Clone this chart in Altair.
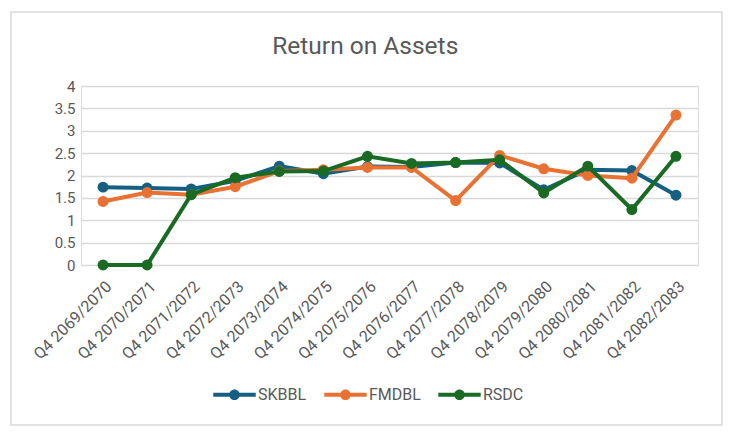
import altair as alt
import pandas as pd

quarters = ["Q4 2069/2070", "Q4 2070/2071", "Q4 2071/2072", "Q4 2072/2073",
            "Q4 2073/2074", "Q4 2074/2075", "Q4 2075/2076", "Q4 2076/2077",
            "Q4 2077/2078", "Q4 2078/2079", "Q4 2079/2080", "Q4 2080/2081",
            "Q4 2081/2082", "Q4 2082/2083"]
series_names = ["SKBBL", "FMDBL", "RSDC"]
skbbl = [1.74, 1.72, 1.70, 1.88, 2.21, 2.04, 2.20, 2.19, 2.29, 2.28, 1.68, 2.13, 2.11, 1.56]
fmdbl = [1.42, 1.62, 1.57, 1.75, 2.10, 2.13, 2.18, 2.18, 1.44, 2.45, 2.15, 2.00, 1.94, 3.35]
rsdc = [0.0, 0.0, 1.57, 1.95, 2.09, 2.10, 2.43, 2.27, 2.29, 2.35, 1.61, 2.21, 1.24, 2.43]
colors = ["#156082", "#E97132", "#196B24"]
y_ticks = [0, 0.5, 1, 1.5, 2, 2.5, 3, 3.5, 4]

rows = []
for name, vals in zip(series_names, [skbbl, fmdbl, rsdc]):
    for q, v in zip(quarters, vals):
        rows.append({"Quarter": q, "Series": name, "Value": v})
df = pd.DataFrame(rows)

GRAY = "#595959"
FONT = "Roboto"
legend_path = ("M-1,-0.09H1V0.09H-1Z "
               "M0.25,0A0.25,0.25 0 1,1 -0.25,0A0.25,0.25 0 1,1 0.25,0Z")

legend = alt.Legend(
    title=None, orient="none", direction="horizontal",
    legendX=132, legendY=287,
    symbolType=legend_path, symbolSize=1800, symbolStrokeWidth=0,
    labelFont=FONT, labelFontSize=16, labelColor=GRAY,
    labelOffset=2, columnPadding=17,
)

color = alt.Color("Series:N",
                  scale=alt.Scale(domain=series_names, range=colors),
                  legend=legend)
x = alt.X("Quarter:N", sort=quarters, title=None,
          axis=alt.Axis(labelAngle=-45, labelFont=FONT, labelFontSize=16,
                        labelColor=GRAY, ticks=False, domain=False,
                        labelPadding=13, grid=False))
y = alt.Y("Value:Q", title=None,
          scale=alt.Scale(domain=[0, 4], nice=False),
          axis=alt.Axis(values=y_ticks, format="~g", labelFont=FONT,
                        labelFontSize=15, labelColor=GRAY, ticks=False,
                        domain=False, labelPadding=6, gridColor="#d9d9d9",
                        gridWidth=1.5, labelFlush=False))

border = alt.Chart(pd.DataFrame({"a": [0]})).mark_rect(
    fill=None, stroke="#d9d9d9", strokeWidth=1.5
).encode(x=alt.value(-70), x2=alt.value(641), y=alt.value(-74), y2=alt.value(339))

layers = [border]
for name in series_names:
    base = alt.Chart(df).transform_filter(alt.datum.Series == name)
    layers.append(base.mark_line(strokeWidth=4).encode(x=x, y=y, color=color))
    layers.append(base.mark_point(filled=True, size=120, opacity=1).encode(x=x, y=y, color=color))

chart = alt.layer(*layers).properties(
    width=617, height=179,
    title=alt.TitleParams("Return on Assets", font=FONT, fontSize=24.5,
                          fontWeight="normal", color=GRAY, anchor="start",
                          dx=262, offset=-48),
    autosize=alt.AutoSizeParams(type="none"),
    padding={"left": 73, "top": 78, "right": 27, "bottom": 163},
).configure_view(stroke=None).configure(background="white")

chart.save("out.html", embed_options={"renderer": "svg", "actions": False})
